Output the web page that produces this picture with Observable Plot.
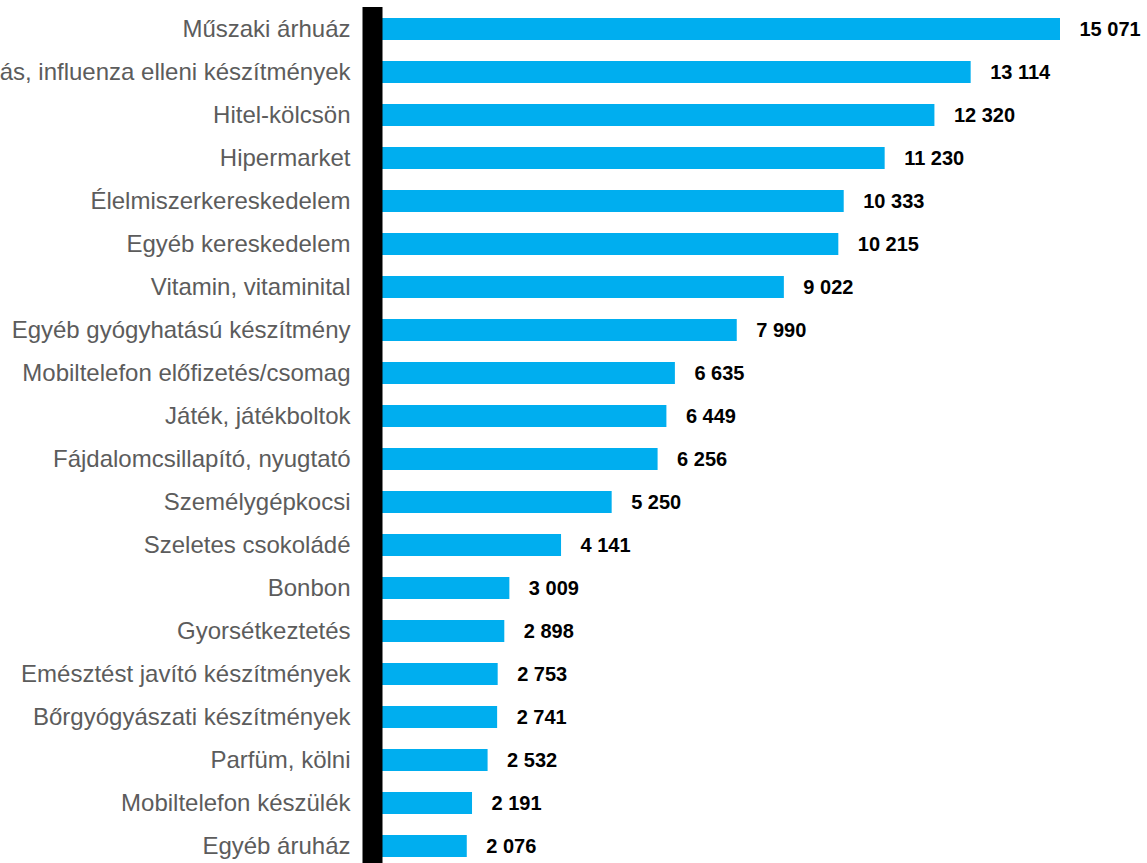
<!DOCTYPE html>
<html>
<head>
<meta charset="utf-8">
<script src="https://cdn.jsdelivr.net/npm/d3@7"></script>
<script src="https://cdn.jsdelivr.net/npm/@observablehq/plot@0.6"></script>
<style>
  html, body { margin: 0; padding: 0; background: white; }
  #chart svg { display: block; }
</style>
</head>
<body>
<div id="chart"></div>
<script>
const categories = [
  "Műszaki árhuáz",
  "Megfázás, influenza elleni készítmények",
  "Hitel-kölcsön",
  "Hipermarket",
  "Élelmiszerkereskedelem",
  "Egyéb kereskedelem",
  "Vitamin, vitaminital",
  "Egyéb gyógyhatású készítmény",
  "Mobiltelefon előfizetés/csomag",
  "Játék, játékboltok",
  "Fájdalomcsillapító, nyugtató",
  "Személygépkocsi",
  "Szeletes csokoládé",
  "Bonbon",
  "Gyorsétkeztetés",
  "Emésztést javító készítmények",
  "Bőrgyógyászati készítmények",
  "Parfüm, kölni",
  "Mobiltelefon készülék",
  "Egyéb áruház"
];
const values = [15071, 13114, 12320, 11230, 10333, 10215, 9022, 7990, 6635, 6449,
                6256, 5250, 4141, 3009, 2898, 2753, 2741, 2532, 2191, 2076];

const data = categories.map((c, i) => ({category: c, value: values[i]}));
const fmt = v => String(v).replace(/\B(?=(\d{3})+(?!\d))/g, "\u00a0");

const chart = Plot.plot({
  width: 1147,
  height: 863,
  marginLeft: 372,
  marginRight: 87,
  marginTop: 7,
  marginBottom: 0,
  style: {fontFamily: "'Liberation Sans', Arial, sans-serif", background: "white"},
  x: {domain: [0, 15071], axis: null},
  y: {domain: categories, range: [13.2, 862.7], paddingInner: 0.49, paddingOuter: 0.1, axis: null},
  marks: [
    Plot.barX(data, {x: "value", y: "category", fill: "#00AEEF"}),
    Plot.ruleX([0], {stroke: "black", strokeWidth: 20}),
    Plot.text(data, {x: 0, y: "category", text: "category", textAnchor: "end", dx: -22,
      fontSize: 24, fill: "#5c5c5c"}),
    Plot.text(data, {x: "value", y: "category", text: d => fmt(d.value), textAnchor: "start", dx: 19,
      fontSize: 20, fontWeight: "bold", fill: "black"})
  ]
});
document.getElementById("chart").appendChild(chart);
</script>
</body>
</html>
